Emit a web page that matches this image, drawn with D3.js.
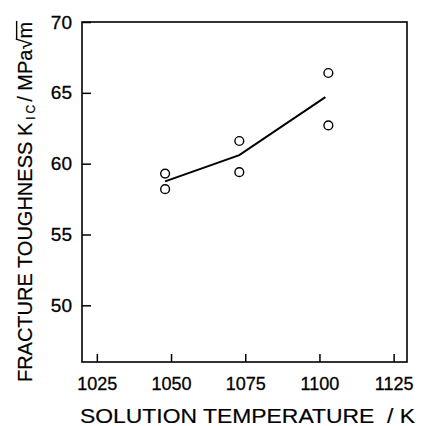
<!DOCTYPE html>
<html>
<head>
<meta charset="utf-8">
<script src="https://cdn.jsdelivr.net/npm/d3@7"></script>
<style>
  html, body { margin: 0; padding: 0; background: #fff; }
  svg { display: block; }
  text { font-family: "Liberation Sans", Arial, sans-serif; fill: #000; }
</style>
</head>
<body>
<svg id="chart" width="422" height="426"></svg>
<script>
// ---- data ----
const tempPoints = [1048, 1048, 1073, 1073, 1103, 1103];
const toughPoints = [59.3, 58.2, 61.6, 59.4, 66.4, 62.7];
const lineTemps = [1048, 1073, 1102];
const lineTough = [58.75, 60.6, 64.7];
const xTicks = [1025, 1050, 1075, 1100, 1125];
const yTicks = [50, 55, 60, 65, 70];
const xDomain = [1020, 1129.5];
const yDomain = [46, 70];
const xTitle = "SOLUTION TEMPERATURE  / K";

// ---- layout ----
const W = 422, H = 426;
const margin = { left: 82, top: 22, right: 15, bottom: 64 };
const iw = W - margin.left - margin.right;
const ih = H - margin.top - margin.bottom;

const svg = d3.select("#chart");
const g = svg.append("g").attr("transform", `translate(${margin.left},${margin.top})`);

const x = d3.scaleLinear().domain(xDomain).range([0, iw]);
const y = d3.scaleLinear().domain(yDomain).range([ih, 0]);

// frame
g.append("rect")
  .attr("x", 0).attr("y", 0).attr("width", iw).attr("height", ih)
  .attr("fill", "none").attr("stroke", "#000").attr("stroke-width", 1.6);

// x axis
const xAxis = g.append("g")
  .attr("transform", `translate(0,${ih})`)
  .call(d3.axisBottom(x).tickValues(xTicks).tickFormat(d3.format("d"))
    .tickSizeInner(-8).tickSizeOuter(0).tickPadding(15));
xAxis.select(".domain").remove();
xAxis.selectAll(".tick line").attr("stroke", "#000").attr("stroke-width", 1.5);
xAxis.selectAll(".tick text").attr("font-size", 18).attr("fill", "#000")
  .attr("stroke", "#000").attr("stroke-width", 0.3)
  .attr("font-family", "Liberation Sans, Arial, sans-serif");

// y axis
const yAxis = g.append("g")
  .call(d3.axisLeft(y).tickValues(yTicks).tickFormat(d3.format("d"))
    .tickSizeInner(-9).tickSizeOuter(0).tickPadding(10));
yAxis.select(".domain").remove();
yAxis.selectAll(".tick line").attr("stroke", "#000").attr("stroke-width", 1.5);
yAxis.selectAll(".tick text").attr("font-size", 19).attr("fill", "#000")
  .attr("stroke", "#000").attr("stroke-width", 0.3)
  .attr("font-family", "Liberation Sans, Arial, sans-serif");

// fitted line
const lineData = lineTemps.map((t, i) => [t, lineTough[i]]);
g.append("path")
  .datum(lineData)
  .attr("fill", "none")
  .attr("stroke", "#000")
  .attr("stroke-width", 2)
  .attr("d", d3.line().x(d => x(d[0])).y(d => y(d[1])));

// points
const pts = tempPoints.map((t, i) => [t, toughPoints[i]]);
g.selectAll("circle.pt")
  .data(pts)
  .enter().append("circle")
  .attr("class", "pt")
  .attr("cx", d => x(d[0]))
  .attr("cy", d => y(d[1]))
  .attr("r", 4.4)
  .attr("fill", "#fff")
  .attr("stroke", "#000")
  .attr("stroke-width", 1.4);

// x title
svg.append("text")
  .attr("x", 80).attr("y", 423)
  .attr("font-size", 21)
  .attr("textLength", 335)
  .attr("lengthAdjust", "spacingAndGlyphs")
  .attr("stroke", "#000").attr("stroke-width", 0.2)
  .style("white-space", "pre")
  .text(xTitle);

// y title
const ytg = svg.append("g").attr("transform", "translate(32,202) rotate(-90)");
const yt = ytg.append("text")
  .attr("text-anchor", "middle")
  .attr("font-size", 20)
  .attr("stroke", "#000").attr("stroke-width", 0.2);
yt.append("tspan").text("FRACTURE TOUGHNESS K");
yt.append("tspan").attr("font-size", 12).attr("dy", 3).attr("dx", 3).attr("letter-spacing", 3).text("IC");
yt.append("tspan").attr("dy", -3).text("/ MPa\u221Am");
// overline of the square root over "m"
const node = yt.node();
const n = node.getNumberOfChars();
const mExt = node.getExtentOfChar(n - 1);
const rExt = node.getExtentOfChar(n - 2);
const topY = rExt.y + rExt.height * 0.12;
ytg.append("line")
  .attr("x1", rExt.x + rExt.width - 1).attr("x2", mExt.x + mExt.width + 1)
  .attr("y1", topY).attr("y2", topY)
  .attr("stroke", "#000").attr("stroke-width", 1.4);
</script>
</body>
</html>
